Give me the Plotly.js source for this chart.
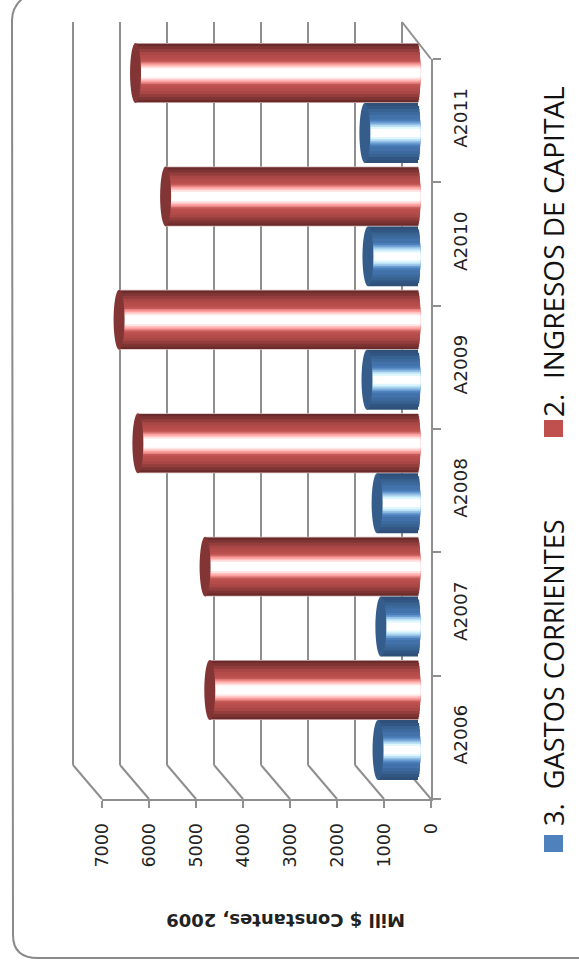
<!DOCTYPE html>
<html>
<head>
<meta charset="utf-8">
<script src="https://cdn.plot.ly/plotly-3.0.1.min.js"></script>
<style>html,body{margin:0;padding:0;background:#fff}#c{width:579px;height:967px}</style>
</head>
<body>
<div id="c"></div>
<script>
const categories = ['A2006','A2007','A2008','A2009','A2010','A2011'];
const ingresosCapital = [4430, 4530, 5960, 6360, 5370, 6010];
const gastosCorrientes = [850, 790, 870, 1085, 1065, 1130];
const nameGastos = '3.  GASTOS CORRIENTES';
const nameIngresos = '2.  INGRESOS DE CAPITAL';
const valueTicks = [0,1000,2000,3000,4000,5000,6000,7000];
const axisTitle = 'Mill $ Constantes, 2009';

const W = 579, H = 967;
const px = x => x / W, py = y => 1 - y / H;
const grey = '#8f8f8f';

// gradient stops: [half-width fraction, colour], outer edge to centre
const redStops  = [[1,'#d8bcbc'],[.975,'#6b2b2b'],[.9,'#7d3433'],[.8,'#933d3c'],[.7,'#a84745'],[.6,'#b34c4a'],[.5,'#ba4f4d'],[.42,'#c45a58'],[.36,'#e58583'],[.31,'#ff9f9d'],[.26,'#ffc2c1'],[.21,'#ffe4e3'],[.15,'#ffffff']];
const blueStops = [[1,'#2f5079'],[.9,'#315684'],[.8,'#38628f'],[.7,'#3d6a9e'],[.6,'#4272a9'],[.45,'#4a7ebb'],[.38,'#6a9bd0'],[.32,'#94c0e6'],[.26,'#bce2f5'],[.2,'#e0f8fd'],[.13,'#ffffff']];
const HALF = 0.486;
const BASE_EXT = 55, CAP_W = 117;

const traces = [];
traces.push({type:'scatter',x:[0],y:[0],xaxis:'x',yaxis:'y',mode:'markers',marker:{opacity:0},hoverinfo:'skip',showlegend:false});

function cylinder(values, stops, sign, name){
  stops.forEach(([t,col])=>{
    const ext = BASE_EXT*Math.sqrt(1 - t*t);
    const w = HALF*t;
    const centre = sign*HALF/2;
    traces.push({
      type:'bar',orientation:'h',name:name,
      y:categories.map((c,k)=>k),
      x:values.map(v=>v+ext),
      base:values.map(()=>-ext),
      width:w,offset:centre-w/2,
      marker:{color:col,line:{width:0}},
      xaxis:'x2',yaxis:'y2',hoverinfo:'skip',showlegend:false
    });
  });
}
cylinder(ingresosCapital, redStops, 1, nameIngresos);
cylinder(gastosCorrientes, blueStops, -1, nameGastos);

traces.push({type:'scatter',x:categories.map(()=>0),y:categories,xaxis:'x3',yaxis:'y3',mode:'markers',marker:{opacity:0},hoverinfo:'skip',showlegend:false});

const shapes = [];
shapes.push({type:'path',xref:'paper',yref:'paper',layer:'below',
  path:`M ${px(23)} ${py(-2)} Q ${px(12)} ${py(7)} ${px(12)} ${py(20)} L ${px(13)} ${py(935)} Q ${px(13)} ${py(958)} ${px(38)} ${py(958)} L ${px(585)} ${py(958)}`,
  line:{color:'#8a8a8a',width:2}});
valueTicks.forEach((v)=>{
  const xb = 402 - v*0.047, xf = 431 - v*0.047;
  shapes.push({type:'line',xref:'paper',yref:'paper',layer:'below',x0:px(xb),y0:py(765),x1:px(xf),y1:py(799),line:{color:grey,width:2}});
});
shapes.push({type:'line',xref:'paper',yref:'paper',layer:'below',x0:px(402),y0:py(22),x1:px(431),y1:py(59),line:{color:grey,width:2}});
function caps(values,col,sign){
  values.forEach((v,k)=>{
    const yc = k + sign*HALF/2;
    shapes.push({type:'circle',xref:'x2',yref:'y2',x0:v-CAP_W,x1:v+CAP_W,y0:yc-HALF/2,y1:yc+HALF/2,fillcolor:col,line:{width:0},layer:'above'});
  });
}
caps(ingresosCapital,'#823534',1);
caps(gastosCorrientes,'#355d8c',-1);
shapes.push({type:'rect',xref:'paper',yref:'paper',x0:px(544),x1:px(563),y0:py(852),y1:py(835),fillcolor:'#4f81bd',line:{width:0}});
shapes.push({type:'rect',xref:'paper',yref:'paper',x0:px(544),x1:px(563),y0:py(437),y1:py(420),fillcolor:'#c0504d',line:{width:0}});

const annotations = [
  {text:axisTitle,xref:'paper',yref:'paper',x:px(286),y:py(921),xanchor:'center',yanchor:'middle',showarrow:false,textangle:180,
   font:{family:'DejaVu Sans',size:18,color:'#222',weight:'bold'}},
  {text:nameGastos,xref:'paper',yref:'paper',x:px(553),y:py(673),xanchor:'center',yanchor:'middle',showarrow:false,textangle:-90,
   font:{family:'Open Sans',size:27.2,color:'#111'}},
  {text:nameIngresos,xref:'paper',yref:'paper',x:px(553),y:py(252),xanchor:'center',yanchor:'middle',showarrow:false,textangle:-90,
   font:{family:'Open Sans',size:28,color:'#111'}}
];

const layout = {
  width:W,height:H,margin:{l:0,r:0,t:0,b:0},paper_bgcolor:'#fff',plot_bgcolor:'rgba(0,0,0,0)',
  barmode:'overlay',showlegend:false,hovermode:false,
  xaxis:{domain:[px(63),px(412)],range:[7000+10/0.047,-10/0.047],anchor:'y',tickvals:valueTicks,showticklabels:false,ticks:'',showgrid:true,gridcolor:grey,gridwidth:2.4,zeroline:false,showline:false},
  yaxis:{domain:[py(765),py(22)],range:[0,1],anchor:'x',showgrid:false,showticklabels:false,ticks:'',zeroline:false,showline:false},
  xaxis2:{domain:[px(60),px(440)],range:[(418-60)/0.047,(418-440)/0.047],anchor:'y2',visible:false},
  yaxis2:{domain:[py(781.7),py(41.3)],range:[-0.5,5.5],anchor:'x2',visible:false},
  xaxis3:{domain:[px(102),px(431)],range:[7000,0],anchor:'y3',side:'bottom',tickvals:valueTicks,ticks:'outside',ticklen:7,tickwidth:2,tickcolor:grey,
    showline:true,linecolor:grey,linewidth:2,showgrid:false,zeroline:false,tickangle:-90,ticklabelstandoff:8,tickfont:{family:'DejaVu Sans',size:17.5,color:'#222'}},
  yaxis3:{domain:[py(799),py(59)],type:'category',categoryorder:'array',categoryarray:categories,range:[-0.5,5.5],anchor:'x3',side:'right',tickson:'boundaries',
    ticks:'outside',ticklen:8,tickwidth:2,tickcolor:grey,showline:true,linecolor:grey,linewidth:2,showgrid:false,zeroline:false,tickangle:-90,ticklabelstandoff:12,tickfont:{family:'DejaVu Sans',size:18.5,color:'#222'}},
  shapes:shapes,annotations:annotations
};
Plotly.newPlot('c',traces,layout,{displayModeBar:false,staticPlot:true});
</script>
</body>
</html>
